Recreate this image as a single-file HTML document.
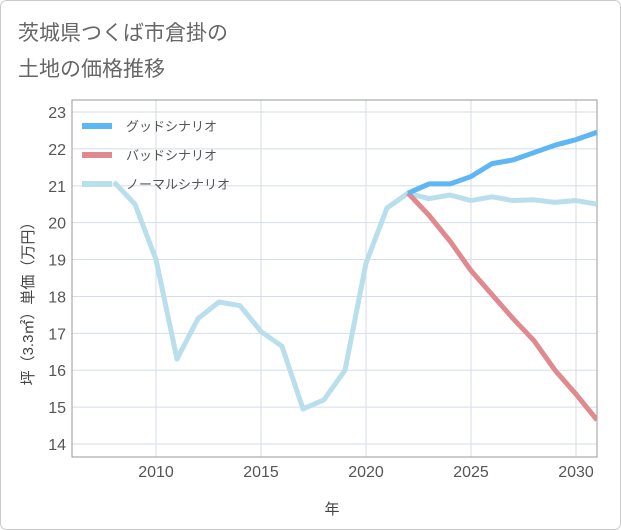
<!DOCTYPE html>
<html><head><meta charset="utf-8"><style>
body{margin:0;background:#fff;}
svg{font-family:"Liberation Sans","Noto Sans CJK JP",sans-serif;display:block}
</style></head><body>
<svg width="621" height="530">
<rect x="0.5" y="0.5" width="620" height="529" rx="6" fill="#fff" stroke="#ccc"/>
<text x="18" y="40" font-size="21" fill="#666">茨城県つくば市倉掛の</text>
<text x="18" y="76" font-size="21" fill="#666">土地の価格推移</text>
<g id="grid"></g><g id="axes"></g><g id="series"></g><g id="legend"></g>
<text x="332" y="514" font-size="15" fill="#444" text-anchor="middle">年</text>
<text transform="translate(33,300) rotate(-90)" font-size="15" fill="#444" text-anchor="middle">坪（3.3㎡）単価（万円）</text>
</svg>
<script>
const years=[2008,2009,2010,2011,2012,2013,2014,2015,2016,2017,2018,2019,2020,2021,2022,2023,2024,2025,2026,2027,2028,2029,2030,2031];
const normal=[21.1,20.5,19.0,16.3,17.4,17.85,17.75,17.05,16.65,14.95,15.2,16.0,18.9,20.4,20.8,20.65,20.75,20.6,20.7,20.6,20.62,20.55,20.6,20.5];
const futureYears=[2022,2023,2024,2025,2026,2027,2028,2029,2030,2031];
const good=[20.8,21.05,21.05,21.25,21.6,21.7,21.9,22.1,22.25,22.45];
const bad=[20.8,20.2,19.5,18.7,18.05,17.4,16.8,16.0,15.35,14.65];
const yTicks=[14,15,16,17,18,19,20,21,22,23];
const xTicks=[2010,2015,2020,2025,2030];
const L=72,R=597,T=100,B=457;
const xs=y=>156+(y-2010)*21;
const ys=v=>444-(v-14)*(332/9);
const NS="http://www.w3.org/2000/svg";
function mk(tag,attrs,parent){const e=document.createElementNS(NS,tag);for(const k in attrs)e.setAttribute(k,attrs[k]);document.getElementById(parent).appendChild(e);return e;}
for(const v of yTicks){
 const l=mk('line',{x1:L,x2:R,y1:ys(v),y2:ys(v),stroke:'#d5dee8','stroke-width':1},'grid');
 
 
 const t=mk('text',{x:L-6,y:ys(v)+6,'font-size':16,fill:'#555','text-anchor':'end'},'axes');
 t.textContent=v;
 
 
}
for(const v of xTicks){
 const l=mk('line',{x1:xs(v),x2:xs(v),y1:T,y2:B,stroke:'#d5dee8','stroke-width':1},'grid');
 
 
 const t=mk('text',{x:xs(v),y:B+20,'font-size':16,fill:'#555','text-anchor':'middle'},'axes');
 t.textContent=v;
 
 
}
const frame=mk('rect',{x:L,y:T,width:R-L,height:B-T,fill:'none',stroke:'#999','stroke-width':1},'axes');


function line(xv,yv,color,name){
 const d=xv.map((x,i)=>(i?'L':'M')+xs(x)+','+ys(yv[i])).join(' ');
 const p=mk('path',{d:d,fill:'none',stroke:color,'stroke-width':5,'stroke-linejoin':'round'},'series');
 
 
}
const cp=mk('clipPath',{id:'clip'},'series');const cr=document.createElementNS(NS,'rect');cr.setAttribute('x',L);cr.setAttribute('y',T);cr.setAttribute('width',R-L);cr.setAttribute('height',B-T);cp.appendChild(cr);
document.getElementById('series').setAttribute('clip-path','url(#clip)');
line(years,normal,'#b9deec','normal-scenario-line');
line(futureYears,bad,'#e08a90','bad-scenario-line');
line(futureYears,good,'#5fb6f5','good-scenario-line');
const leg=[['グッドシナリオ','#5fb6f5','legend-good'],['バッドシナリオ','#e08a90','legend-bad'],['ノーマルシナリオ','#b9deec','legend-normal']];
leg.forEach((e,i)=>{
 const y=126+i*29;
 const r=mk('rect',{x:82,y:y-3,width:30,height:6,fill:e[1]},'legend');
 
 
 const t=mk('text',{x:126,y:y+5,'font-size':13,fill:'#555'},'legend');
 t.textContent=e[0];
 
 
});
</script>
</body></html>
